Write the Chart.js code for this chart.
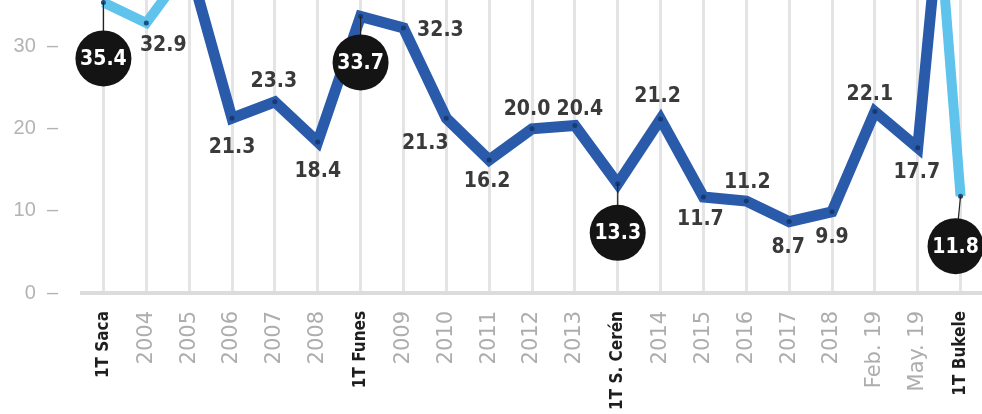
<!DOCTYPE html>
<html>
<head>
<meta charset="utf-8">
<script src="https://cdn.jsdelivr.net/npm/chart.js@4"></script>
<style>
  body { margin: 0; background: #fff; }
  canvas { display: block; }
</style>
</head>
<body>
<canvas id="myChart" width="982" height="414"></canvas>
<script>
// periods on the x axis
const categories = ["1T Saca", "2004", "2005", "2006", "2007", "2008", "1T Funes", "2009", "2010",
  "2011", "2012", "2013", "1T S. Cerén", "2014", "2015", "2016", "2017", "2018", "Feb. 19", "May. 19", "1T Bukele"];
// value per period (2005 goes off the top of the chart, unlabeled)
const values = [35.4, 32.9, 40, 21.3, 23.3, 18.4, 33.7, 32.3, 21.3, 16.2, 20.0, 20.4, 13.3,
  21.2, 11.7, 11.2, 8.7, 9.9, 22.1, 17.7, 11.8];
// unlabeled spike between May. 19 and 1T Bukele
const peakPos = 19.5;
const peakValue = 45;
const yTicks = [0, 10, 20, 30];
// periods shown in a black badge
const badgeIdx = [0, 6, 12, 20];

const DARK = "#2a5bab";
const LIGHT = "#5fc3ec";
const LABEL_FONT = '"DejaVu Sans Condensed", "DejaVu Sans", sans-serif';

const pt = (i) => ({ x: i, y: values[i] });

// dark series: 2005 .. May. 19, then up to the spike
const darkData = [];
for (let i = 2; i <= 19; i++) darkData.push(pt(i));
darkData.push({ x: peakPos, y: peakValue });

// light series: 1T Saca .. 2005, gap, spike .. 1T Bukele
const lightData = [pt(0), pt(1), pt(2), { x: 10, y: null }, { x: peakPos, y: peakValue }, pt(20)];

// text position offsets (px) for plain value labels, by index
const labelSpots = {
  1: [17, 23], 3: [0, 29], 4: [-1, -20], 5: [0, 30], 7: [37, 3], 8: [-21, 25], 9: [-2, 22],
  10: [-5, -19], 11: [5, -16], 13: [-3, -22], 14: [-3, 23], 15: [1, -19], 16: [-1, 26],
  17: [0, 26], 18: [-5, -17], 19: [-1, 25]
};
// badge placement relative to its point: [dx, dy]
const badgeSpots = { 0: [0, 56], 6: [0, 46], 12: [0, 49], 20: [-5, 50] };

const isTerm = (c) => {
  const v = c.tick ? c.tick.value : c.index;
  const s = categories[v];
  return !!s && s.startsWith("1T");
};

const valueLabels = {
  id: "valueLabels",
  afterDatasetsDraw(chart) {
    const ctx = chart.ctx;
    const xs = chart.scales.x, ys = chart.scales.y;
    ctx.save();
    ctx.textAlign = "center";
    ctx.textBaseline = "middle";
    ctx.font = "bold 21px " + LABEL_FONT;
    ctx.fillStyle = "#3a3a3a";
    Object.keys(labelSpots).forEach((k) => {
      const i = +k;
      const px = xs.getPixelForValue(i), py = ys.getPixelForValue(values[i]);
      ctx.fillText(values[i].toFixed(1), px + labelSpots[k][0], py + labelSpots[k][1]);
    });
    badgeIdx.forEach((i) => {
      const px = xs.getPixelForValue(i), py = ys.getPixelForValue(values[i]);
      const cx = px + badgeSpots[i][0], cy = py + badgeSpots[i][1];
      ctx.strokeStyle = "#222";
      ctx.lineWidth = 1.2;
      ctx.beginPath();
      ctx.moveTo(px, py);
      ctx.lineTo(cx, cy);
      ctx.stroke();
      ctx.fillStyle = "#141414";
      ctx.beginPath();
      ctx.arc(cx, cy, 28, 0, Math.PI * 2);
      ctx.fill();
      ctx.fillStyle = "#fff";
      ctx.font = "bold 21px " + LABEL_FONT;
      ctx.fillText(values[i].toFixed(1), cx, cy + 1);
    });
    ctx.restore();
  }
};

new Chart(document.getElementById("myChart"), {
  type: "line",
  data: {
    datasets: [
      {
        data: lightData,
        borderColor: LIGHT,
        borderWidth: 10,
        pointRadius: 2.5,
        pointBackgroundColor: "#1b4f80",
        pointBorderWidth: 0,
        borderJoinStyle: "miter",
        tension: 0,
      },
      {
        data: darkData,
        borderColor: DARK,
        borderWidth: 11,
        pointRadius: 2.5,
        pointBackgroundColor: "#173a72",
        pointBorderWidth: 0,
        borderJoinStyle: "miter",
        tension: 0,
      },
    ],
  },
  options: {
    responsive: false,
    animation: false,
    layout: { padding: 0, autoPadding: false },
    plugins: { legend: { display: false }, tooltip: { enabled: false } },
    scales: {
      x: {
        type: "linear",
        min: -0.5,
        max: categories.length - 0.5,
        afterBuildTicks: (scale) => {
          scale.ticks = categories.map((_, i) => ({ value: i }));
        },
        afterFit: (scale) => {
          scale.height = 121;
          scale.paddingLeft = 0;
          scale.paddingRight = 0;
        },
        border: { display: true, color: "#dcdcdc", width: 4 },
        grid: { color: "#e4e4e4", lineWidth: 3, drawTicks: false },
        ticks: {
          autoSkip: false,
          minRotation: 90,
          maxRotation: 90,
          padding: 18,
          callback: (v) => categories[v],
          color: (c) => (isTerm(c) ? "#1e1e1e" : "#adadad"),
          font: (c) => isTerm(c)
            ? { family: LABEL_FONT, size: 17, weight: "bold" }
            : { family: "DejaVu Sans", size: 21, weight: "normal" },
        },
      },
      y: {
        min: 0,
        max: 35.7,
        afterBuildTicks: (scale) => {
          scale.ticks = yTicks.map((v) => ({ value: v }));
        },
        afterFit: (scale) => {
          scale.width = 82;
          scale.paddingTop = 0;
          scale.paddingBottom = 0;
        },
        border: { display: false },
        grid: { display: false, drawTicks: false },
        ticks: {
          padding: 24,
          color: "#b3b3b3",
          font: { family: "Liberation Sans", size: 20 },
          callback: (v) => v + "  \u2013",
        },
      },
    },
  },
  plugins: [valueLabels],
});
</script>
</body>
</html>
